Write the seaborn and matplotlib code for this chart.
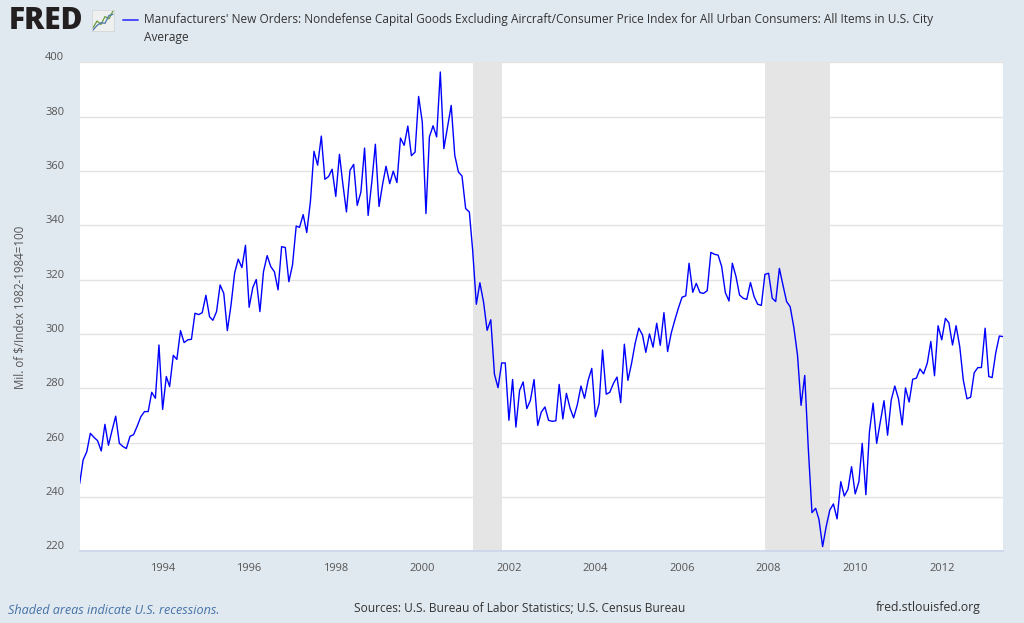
import pandas as pd
import matplotlib
matplotlib.use("Agg")
import matplotlib.pyplot as plt
import matplotlib.dates as mdates
from matplotlib.lines import Line2D
from matplotlib.transforms import ScaledTranslation
import seaborn as sns

# monthly values, Feb 1992 .. Jun 2013
orders_1992_1995 = [
    245.0, 253.7, 256.7, 263.5, 262.0, 260.8, 257.0, 266.8, 259.1, 264.7, 269.8,
    259.8, 258.6, 257.9, 262.4, 263.0, 266.2, 269.6, 271.5, 271.5, 278.6, 276.4, 296.0,
    272.3, 284.4, 280.7, 292.2, 290.7, 301.3, 296.9, 297.9, 298.1, 307.7, 307.2, 307.9,
    314.3, 306.4, 305.1, 308.3, 318.1, 315.0, 301.3, 310.7, 322.6, 327.6, 324.5, 332.7,
]
orders_1996_1999 = [
    309.9, 317.2, 320.1, 308.3, 323.0, 328.9, 324.9, 323.0, 316.3, 332.2, 331.9, 319.3,
    325.5, 339.8, 339.3, 344.0, 337.4, 348.8, 367.3, 362.2, 372.9, 357.0, 358.0, 360.7,
    350.7, 366.2, 355.5, 345.0, 360.3, 362.5, 347.4, 352.3, 368.5, 343.7, 356.0, 369.9,
    347.0, 355.4, 361.8, 355.4, 360.0, 355.8, 372.2, 369.5, 376.6, 365.7, 367.0, 387.5,
]
orders_2000_2003 = [
    378.1, 344.4, 372.6, 376.7, 372.6, 396.5, 368.3, 376.2, 384.2, 365.8, 359.7, 358.2,
    346.2, 345.0, 330.9, 311.0, 318.9, 311.8, 301.4, 305.3, 285.2, 280.3, 289.4, 289.4,
    268.3, 283.3, 265.8, 279.3, 282.4, 272.6, 275.6, 283.3, 266.4, 271.3, 273.2, 268.3,
    267.9, 268.1, 281.5, 268.8, 278.2, 272.7, 269.2, 274.0, 280.9, 276.4, 283.1, 287.4,
]
orders_2004_2007 = [
    269.6, 274.5, 294.2, 277.9, 278.6, 281.9, 284.2, 274.8, 296.3, 283.0, 289.3, 296.6,
    302.2, 299.7, 293.3, 300.1, 295.2, 304.0, 295.9, 307.9, 293.6, 300.3, 305.2, 309.6,
    313.6, 314.1, 326.1, 315.4, 318.7, 315.3, 315.0, 316.0, 330.1, 329.4, 329.1, 324.9,
    315.3, 312.2, 326.1, 321.2, 314.4, 313.2, 312.8, 319.0, 313.8, 311.0, 310.6, 322.0,
]
orders_2008_2013 = [
    322.4, 313.2, 312.0, 324.2, 318.1, 312.0, 310.1, 302.5, 292.3, 273.8, 284.8, 258.0,
    234.3, 235.9, 231.8, 221.8, 229.2, 235.3, 237.5, 232.0, 245.7, 240.4, 242.9, 251.2,
    241.2, 245.7, 259.8, 240.9, 264.1, 274.6, 259.8, 267.8, 275.5, 262.8, 275.8, 280.9,
    276.2, 266.6, 280.2, 275.0, 283.4, 283.8, 287.2, 285.4, 289.3, 297.3, 284.7, 303.1,
    297.9, 305.8, 304.2, 296.0, 303.1, 295.4, 283.1, 276.2, 276.8, 285.8, 287.7, 287.7,
    302.2, 284.4, 284.0, 293.2, 299.3, 299.1,
]
first_month = "1992-02-01"

recession_starts = ["2001-03-01", "2007-12-01"]
recession_ends = ["2001-11-01", "2009-06-01"]
year_ticks = list(range(1994, 2013, 2))
y_ticks = list(range(220, 401, 20))

title_line1 = ("Manufacturers' New Orders: Nondefense Capital Goods Excluding Aircraft/Consumer "
               "Price Index for All Urban Consumers: All Items in U.S. City")
title_line2 = "Average"
y_label = "Mil. of \\$/Index 1982-1984=100"

# little logo sparkline
logo_x = [0, 1, 2, 3, 4, 5]
logo_a = [1.0, 2.2, 1.6, 3.0, 2.6, 4.0]
logo_b = [0.6, 1.4, 1.9, 1.8, 3.2, 3.4]

values = orders_1992_1995 + orders_1996_1999 + orders_2000_2003 + orders_2004_2007 + orders_2008_2013
df = pd.DataFrame({
    "date": pd.date_range(first_month, periods=len(values), freq="MS"),
    "value": values,
})

sns.set_theme(style="white")
plt.rcParams["font.family"] = ["Open Sans", "DejaVu Sans"]

bg = "#e1e9f0"
fig = plt.figure(figsize=(10.24, 6.23), dpi=100, facecolor=bg)
ax = fig.add_axes([0.0778, 0.1148, 0.9017, 0.7849])
ax.set_facecolor("white")

for s, e in zip(recession_starts, recession_ends):
    ax.axvspan(pd.Timestamp(s), pd.Timestamp(e), color="#e5e5e5", lw=0, zorder=1)

sns.lineplot(data=df, x="date", y="value", ax=ax, color="#0000ff", linewidth=1.0, zorder=3)

ax.set_xlim(df["date"].iloc[0], df["date"].iloc[-1])
ax.set_ylim(220, 400)
ax.set_yticks(y_ticks)
ax.set_xticks([pd.Timestamp(f"{y}-01-01") for y in year_ticks])
ax.xaxis.set_major_formatter(mdates.DateFormatter("%Y"))
ax.grid(axis="y", color="#e3e3e3", lw=1)
ax.set_axisbelow(True)
ax.set_xlabel("")
ax.set_ylabel("")
for side in ["top", "right", "left"]:
    ax.spines[side].set_visible(False)
ax.spines["bottom"].set_color("#ccd6eb")
ax.tick_params(axis="x", length=7.2, width=1, color="#ccd6eb", labelsize=8, labelcolor="#555555", pad=1)
ax.tick_params(axis="y", length=0, labelsize=8, labelcolor="#555555", pad=11)
# FRED puts y labels a few pixels above their gridlines
shift_up = ScaledTranslation(0, 0.06, fig.dpi_scale_trans)
for lbl in ax.get_yticklabels():
    lbl.set_transform(lbl.get_transform() + shift_up)

fig.text(20 / 1024, 0.507, y_label, rotation=90, ha="center", va="center", fontsize=8.3, color="#555555")

# header
fig.text(9 / 1024, 1 - 21 / 623, "FRED", fontsize=21.5, fontweight="heavy", color="#231f20",
         ha="left", va="center")
logo = fig.add_axes([92 / 1024, 1 - 31 / 623, 22 / 1024, 21 / 623])
logo.set_facecolor("#eef0f0")
logo.plot(logo_x, logo_a, color="#6a9a3a", lw=0.9)
logo.plot(logo_x, logo_b, color="#4a78a8", lw=0.9)
logo.set_xticks([])
logo.set_yticks([])
for sp in logo.spines.values():
    sp.set_color("#d0d4d6")
    sp.set_linewidth(0.5)

fig.add_artist(Line2D([123 / 1024, 138 / 1024], [1 - 20 / 623, 1 - 20 / 623],
                      color="#4b4bff", lw=1.4, transform=fig.transFigure))
fig.text(144 / 1024, 1 - 20 / 623, title_line1, fontsize=8.6, color="#333333", ha="left", va="center")
fig.text(144 / 1024, 1 - 38 / 623, title_line2, fontsize=8.6, color="#333333", ha="left", va="center")

# footer
fig.text(8 / 1024, 1 - 611 / 623, "Shaded areas indicate U.S. recessions.", fontsize=9.1,
         style="italic", color="#4572a7", ha="left", va="center")
fig.text(520 / 1024, 1 - 608 / 623, "Sources: U.S. Bureau of Labor Statistics; U.S. Census Bureau",
         fontsize=8.6, color="#333333", ha="center", va="center")
fig.text(981 / 1024, 1 - 608 / 623, "fred.stlouisfed.org", fontsize=8.8, color="#333333",
         ha="right", va="center")

fig.savefig("out.png", dpi=100, facecolor=bg)
